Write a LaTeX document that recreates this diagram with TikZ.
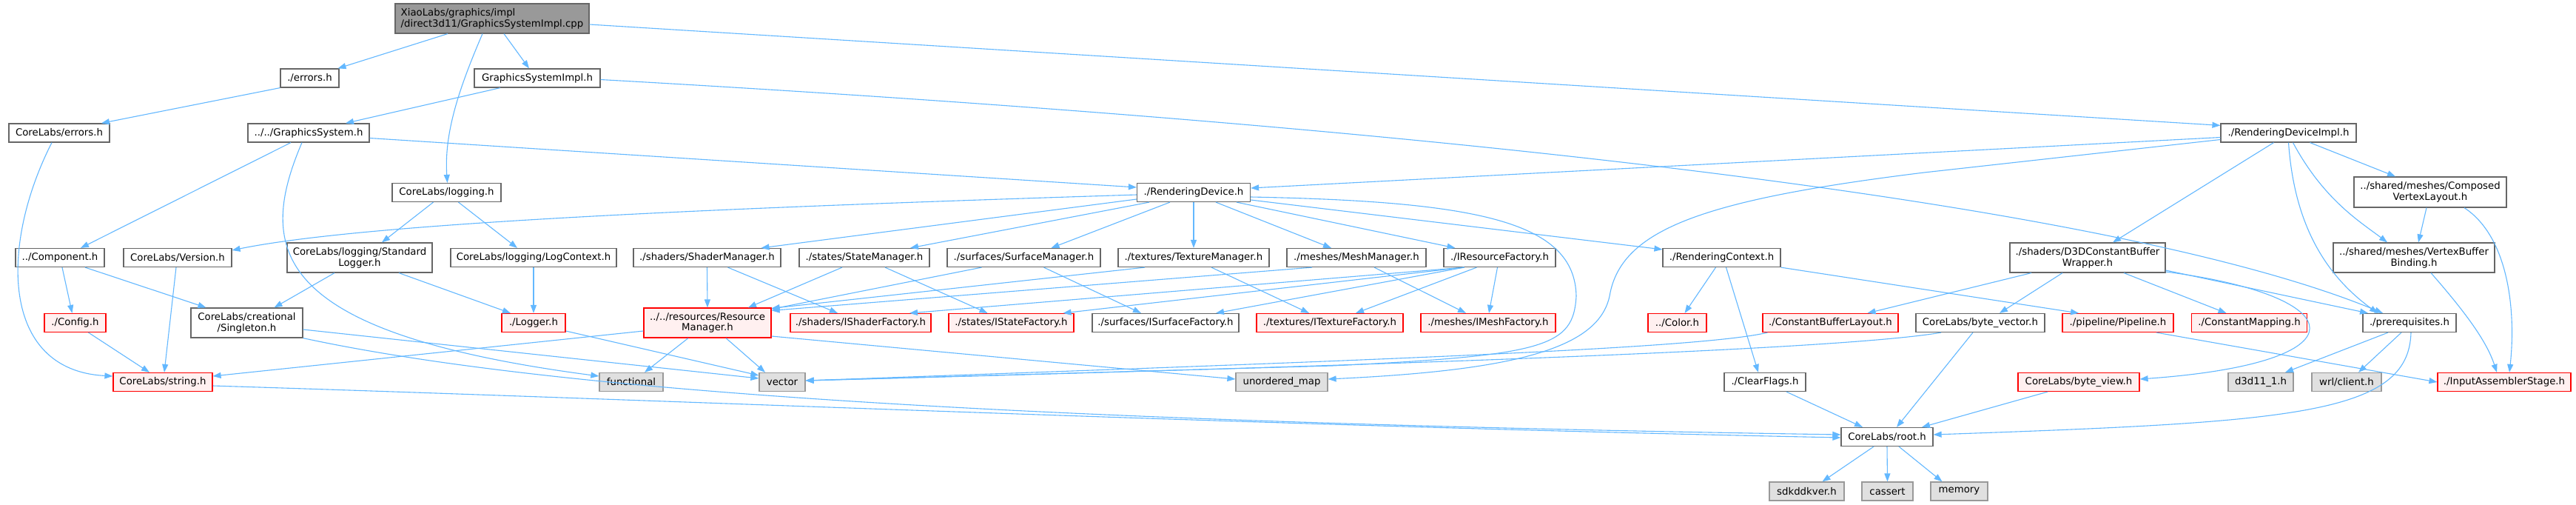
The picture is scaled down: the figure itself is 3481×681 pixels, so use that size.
\documentclass[tikz,border=0pt]{standalone}
\usepackage{fontspec}
\newfontfamily\nf{DejaVu Sans}
\usetikzlibrary{arrows.meta,calc}
\definecolor{edgec}{HTML}{63B8FF}
\definecolor{bord}{HTML}{666666}
\definecolor{gbord}{HTML}{999999}
\definecolor{gfill}{HTML}{E0E0E0}
\definecolor{rfill}{HTML}{FFF0F0}
\definecolor{rootfill}{HTML}{999999}
\newcommand{\nodefont}{\nf\fontsize{13.3}{14.7}\selectfont}
\tikzset{
  nbox/.style={draw=bord, fill=white, line width=1.2pt, minimum height=25, inner sep=0pt, font=\nodefont, align=center},
  rbox/.style={nbox, draw=red, fill=rfill},
  gbox/.style={nbox, draw=gbord, fill=gfill},
  rootbox/.style={nbox, fill=rootfill, align=left},
  dep/.style={draw=edgec, line width=1.1pt, -{Triangle[length=11pt,width=8pt]}}
}
\begin{document}
\begin{tikzpicture}[x=1pt,y=-1pt]
\fill[white] (0,0) rectangle (3481,681);
\useasboundingbox (0,0) rectangle (3481,681);
% row 0
\node[rootbox, minimum width=262, minimum height=40] (root) at (665,25) {XiaoLabs/graphics/impl\\/direct3d11/GraphicsSystemImpl.cpp};
% row 1
\node[nbox, minimum width=79] (errors) at (418.5,105.5) {./errors.h};
\node[nbox, minimum width=170] (gsimpl) at (726,105.5) {GraphicsSystemImpl.h};
% row 2
\node[nbox, minimum width=136] (clerrors) at (80,179.5) {CoreLabs/errors.h};
\node[nbox, minimum width=164] (gsys) at (417,179.5) {../../GraphicsSystem.h};
\node[nbox, minimum width=183] (rdimpl) at (3092.5,179.5) {./RenderingDeviceImpl.h};
% row 3
\node[nbox, minimum width=147] (logging) at (603.5,260) {CoreLabs/logging.h};
\node[nbox, minimum width=153] (rdev) at (1613,260) {./RenderingDevice.h};
\node[nbox, minimum width=206, minimum height=41] (cvl) at (3284,259.5) {../shared/meshes/Composed\\VertexLayout.h};
% row 4
\node[nbox, minimum width=120] (component) at (81,348) {../Component.h};
\node[nbox, minimum width=146] (version) at (240,348) {CoreLabs/Version.h};
\node[nbox, minimum width=196, minimum height=40] (stdlogger) at (486,348) {CoreLabs/logging/Standard\\Logger.h};
\node[nbox, minimum width=224] (logctx) at (721,348) {CoreLabs/logging/LogContext.h};
\node[nbox, minimum width=199] (shadermgr) at (955.5,348) {./shaders/ShaderManager.h};
\node[nbox, minimum width=176] (statemgr) at (1168,348) {./states/StateManager.h};
\node[nbox, minimum width=207] (surfmgr) at (1383.5,348) {./surfaces/SurfaceManager.h};
\node[nbox, minimum width=204] (texmgr) at (1613,348) {./textures/TextureManager.h};
\node[nbox, minimum width=188] (meshmgr) at (1833,348) {./meshes/MeshManager.h};
\node[nbox, minimum width=151] (resfac) at (2026.5,348) {./IResourceFactory.h};
\node[nbox, minimum width=159] (rctx) at (2326.5,348) {./RenderingContext.h};
\node[nbox, minimum width=210, minimum height=40] (d3dcbw) at (2821,348) {./shaders/D3DConstantBuffer\\Wrapper.h};
\node[nbox, minimum width=218, minimum height=40] (vbb) at (3262,348) {../shared/meshes/VertexBuffer\\Binding.h};
% row 5
\node[rbox, minimum width=83] (config) at (101.5,436) {./Config.h};
\node[nbox, minimum width=151, minimum height=40] (singleton) at (333.5,436) {CoreLabs/creational\\/Singleton.h};
\node[rbox, minimum width=86] (logger) at (721,436) {./Logger.h};
\node[rbox, minimum width=172, minimum height=40] (resmgr) at (956,436) {../../resources/Resource\\Manager.h};
\node[rbox, minimum width=190] (ishfac) at (1163,436) {./shaders/IShaderFactory.h};
\node[rbox, minimum width=169] (istfac) at (1366.5,436) {./states/IStateFactory.h};
\node[nbox, minimum width=198] (isufac) at (1575,436) {./surfaces/ISurfaceFactory.h};
\node[rbox, minimum width=198] (itexfac) at (1797,436) {./textures/ITextureFactory.h};
\node[rbox, minimum width=182] (imeshfac) at (2011,436) {./meshes/IMeshFactory.h};
\node[rbox, minimum width=79] (color) at (2266.5,436) {../Color.h};
\node[rbox, minimum width=183] (cbl) at (2473.5,436) {./ConstantBufferLayout.h};
\node[nbox, minimum width=174] (bytevec) at (2676,436) {CoreLabs/byte\_vector.h};
\node[rbox, minimum width=150] (pipeline) at (2862,436) {./pipeline/Pipeline.h};
\node[rbox, minimum width=156] (cmap) at (3039.5,436) {./ConstantMapping.h};
\node[nbox, minimum width=126] (prereq) at (3256,436) {./prerequisites.h};
% row 6
\node[rbox, minimum width=134] (string) at (220,516) {CoreLabs/string.h};
\node[gbox, minimum width=86] (functional) at (853,516) {functional};
\node[gbox, minimum width=62] (vector) at (1057,516) {vector};
\node[gbox, minimum width=124] (umap) at (1732,516) {unordered\_map};
\node[nbox, minimum width=110] (clearflags) at (2385,516) {./ClearFlags.h};
\node[rbox, minimum width=164] (byteview) at (2809,516) {CoreLabs/byte\_view.h};
\node[gbox, minimum width=88] (d3d11) at (3055,516) {d3d11\_1.h};
\node[gbox, minimum width=94] (wrl) at (3171,516) {wrl/client.h};
\node[rbox, minimum width=180] (ias) at (3384,516) {./InputAssemblerStage.h};
% row 7
\node[nbox, minimum width=124] (rooth) at (2550,590) {CoreLabs/root.h};
% row 8
\node[gbox, minimum width=101] (sdk) at (2441.5,663.5) {sdkddkver.h};
\node[gbox, minimum width=69] (cassert) at (2550.5,663.5) {cassert};
\node[gbox, minimum width=77] (memory) at (2647.5,663.5) {memory};

% ---- edges ----
\draw[dep] ([xshift=-60pt]root.south) -- ([xshift=38pt]errors.north);
\draw[dep] ([xshift=16pt]root.south) -- ([xshift=-11pt]gsimpl.north);
\draw[dep] ([xshift=-13pt]root.south) .. controls (620,120) and (600,180) .. ([xshift=1pt]logging.north);
\draw[dep] ([yshift=-8pt]root.east) -- ([yshift=-3pt]rdimpl.north west);
\draw[dep] (errors.south west) -- ([xshift=57pt]clerrors.north);
\draw[dep] ([xshift=-10pt]clerrors.south) .. controls (0,330) and (0,500) .. ([yshift=8pt]string.west);
\draw[dep] ([xshift=-50pt]gsimpl.south) -- ([xshift=50pt]gsys.north);
\draw[dep] ([yshift=-2pt]gsimpl.east) .. controls (2100,180) and (2900,290) .. ([xshift=-36pt]prereq.north);
\draw[dep] ([xshift=-24pt]gsys.south) -- ([xshift=28pt]component.north);
\draw[dep] ([xshift=-9pt]gsys.south) .. controls (345,340) and (370,450) .. ([yshift=8pt]functional.west);
\draw[dep] ([yshift=-7pt]gsys.east) -- ([yshift=7pt]rdev.west);
\draw[dep] ([xshift=-18pt]logging.south) -- ([xshift=30pt]stdlogger.north);
\draw[dep] ([xshift=16pt]logging.south) -- ([xshift=-22pt]logctx.north);
% RenderingDevice
\draw[dep] ([yshift=-3pt]rdev.west) .. controls (1000,280) and (500,300) .. ([yshift=10pt]version.east);
\draw[dep] ([yshift=-9pt]rdev.west) -- ([xshift=73pt]shadermgr.north);
\draw[dep] ([xshift=-60pt]rdev.south) -- ([xshift=62pt]statemgr.north);
\draw[dep] ([xshift=-32pt]rdev.south) -- ([xshift=37pt]surfmgr.north);
\draw[dep] (rdev.south) -- (texmgr.north);
\draw[dep] ([xshift=30pt]rdev.south) -- ([xshift=-34pt]meshmgr.north);
\draw[dep] ([xshift=58pt]rdev.south) -- ([xshift=-60pt]resfac.north);
\draw[dep] ([yshift=-10pt]rdev.east) -- ([yshift=-2pt]rctx.north west);
\draw[dep] ([yshift=-6pt]rdev.east) .. controls (2000,272) and (2128,300) .. (2130,400) .. controls (2126,468) and (2090,480) .. (1800,494) -- ([yshift=2pt]vector.east);
% RenderingDeviceImpl
\draw[dep] ([yshift=-6pt]rdimpl.west) -- ([yshift=6pt]rdev.east);
\draw[dep] ([yshift=-9pt]rdimpl.west) -- (2600,233) .. controls (2300,270) and (2190,310) .. (2175,400) .. controls (2160,470) and (2050,500) .. ([yshift=4pt]umap.east);
\draw[dep] ([xshift=-20pt]rdimpl.south) -- ([xshift=34pt]d3dcbw.north);
\draw[dep] (rdimpl.south) .. controls (3100,300) and (3140,370) .. ([xshift=-43pt]prereq.north);
\draw[dep] ([xshift=6pt]rdimpl.south) .. controls (3140,270) and (3190,300) .. ([xshift=-36pt]vbb.north);
\draw[dep] ([xshift=29pt]rdimpl.south) -- ([xshift=-47pt]cvl.north);
\draw[dep] ([xshift=-5pt]cvl.south) -- ([xshift=6pt]vbb.north);
\draw[dep] ([xshift=46pt]cvl.south) .. controls (3390,320) and (3400,420) .. ([xshift=7pt]ias.north);
\draw[dep] ([xshift=23pt]vbb.south) .. controls (3330,420) and (3360,460) .. ([xshift=-10pt]ias.north);
% left cluster
\draw[dep] ([xshift=3pt]component.south) -- ([xshift=-4pt]config.north);
\draw[dep] ([xshift=34pt]component.south) -- ([xshift=-55pt]singleton.north);
\draw[dep] ([xshift=-2pt]version.south) -- ([xshift=2pt]string.north);
\draw[dep] ([xshift=-34pt]stdlogger.south) -- ([xshift=37pt]singleton.north);
\draw[dep] ([xshift=53pt]stdlogger.south) -- ([xshift=-31pt]logger.north);
\draw[dep] (logctx.south) -- (logger.north);
\draw[dep] ([xshift=18pt]config.south) -- ([xshift=-18pt]string.north);
\draw[dep] ([yshift=-9pt]singleton.east) -- ([yshift=5pt]vector.west);
\draw[dep] (singleton.south east) .. controls (750,530) and (1400,570) .. ([yshift=3pt]rooth.west);
\draw[dep] ([yshift=-5pt]string.east) .. controls (900,540) and (1700,575) .. ([yshift=-1pt]rooth.west);
\draw[dep] ([yshift=-11pt]logger.east) -- ([yshift=9pt]vector.west);
% resource manager
\draw[dep] ([yshift=-11pt]resmgr.west) -- ([yshift=8pt]string.east);
\draw[dep] ([xshift=-26pt]resmgr.south) -- ([xshift=18pt]functional.north);
\draw[dep] ([xshift=25pt]resmgr.south) -- ([xshift=-23pt]vector.north);
\draw[dep] ([yshift=-18pt]resmgr.east) -- ([yshift=4pt]umap.west);
% managers
\draw[dep] (shadermgr.south) -- (resmgr.north);
\draw[dep] ([xshift=28pt]shadermgr.south) -- ([xshift=-31pt]ishfac.north);
\draw[dep] ([xshift=-30pt]statemgr.south) -- ([xshift=55pt]resmgr.north);
\draw[dep] ([xshift=28pt]statemgr.south) -- ([xshift=-32pt]istfac.north);
\draw[dep] ([xshift=-57pt]surfmgr.south) -- ([yshift=-2pt]resmgr.north east);
\draw[dep] ([xshift=27pt]surfmgr.south) -- ([xshift=-33pt]isufac.north);
\draw[dep] ([xshift=-66pt]texmgr.south) -- ([yshift=-1pt]resmgr.north east);
\draw[dep] ([xshift=24pt]texmgr.south) -- ([xshift=-28pt]itexfac.north);
\draw[dep] ([xshift=-60pt]meshmgr.south) -- ([yshift=-4pt]resmgr.north east);
\draw[dep] ([xshift=24pt]meshmgr.south) -- ([xshift=-30pt]imeshfac.north);
\draw[dep] ([xshift=-48pt]resfac.south) -- ([xshift=66pt]ishfac.north);
\draw[dep] ([xshift=-48pt]resfac.south) -- ([xshift=70pt]istfac.north);
\draw[dep] ([xshift=-48pt]resfac.south) -- ([xshift=68pt]isufac.north);
\draw[dep] ([xshift=-31pt]resfac.south) -- ([xshift=35pt]itexfac.north);
\draw[dep] ([xshift=-3pt]resfac.south) -- ([xshift=1pt]imeshfac.north);
% rendering context
\draw[dep] ([xshift=-8pt]rctx.south) -- ([xshift=10pt]color.north);
\draw[dep] ([xshift=6pt]rctx.south) -- ([xshift=-9pt]clearflags.north);
\draw[dep] (rctx.south east) -- ([xshift=-53pt]pipeline.north);
% D3D constant buffer wrapper
\draw[dep] ([xshift=-76pt]d3dcbw.south) -- ([xshift=50pt]cbl.north);
\draw[dep] ([xshift=-34pt]d3dcbw.south) -- ([xshift=26pt]bytevec.north);
\draw[dep] ([xshift=49pt]d3dcbw.south) -- ([xshift=-31pt]cmap.north);
\draw[dep] ([yshift=-17pt]d3dcbw.east) -- ([xshift=-56pt]prereq.north);
\draw[dep] ([yshift=-19pt]d3dcbw.east) .. controls (3180,400) and (3200,490) .. ([yshift=4pt]byteview.east);
\draw[dep] ([xshift=52pt]pipeline.south) -- (ias.west);
% prerequisites
\draw[dep] ([xshift=-29pt]prereq.south) -- ([xshift=33pt]d3d11.north);
\draw[dep] ([xshift=-11pt]prereq.south) -- ([xshift=16pt]wrl.north);
\draw[dep] ([xshift=2pt]prereq.south) .. controls (3255,560) and (3100,570) .. ([yshift=3pt]rooth.east);
% to vector from right
\draw[dep] ([xshift=-53pt]bytevec.south) .. controls (2500,470) and (2000,490) .. ([yshift=2pt]vector.east);
\draw[dep] ([xshift=-85pt]cbl.south) .. controls (2300,470) and (1900,485) .. ([yshift=2pt]vector.east);
% to root.h
\draw[dep] ([xshift=29pt]clearflags.south) -- ([xshift=-33pt]rooth.north);
\draw[dep] ([xshift=-10pt]bytevec.south) -- ([xshift=13pt]rooth.north);
\draw[dep] ([xshift=-42pt]byteview.south) -- ([xshift=47pt]rooth.north);
\draw[dep] ([xshift=-18pt]rooth.south) -- ([xshift=21pt]sdk.north);
\draw[dep] (rooth.south) -- (cassert.north);
\draw[dep] ([xshift=16pt]rooth.south) -- ([xshift=-23pt]memory.north);
\end{tikzpicture}
\end{document}
